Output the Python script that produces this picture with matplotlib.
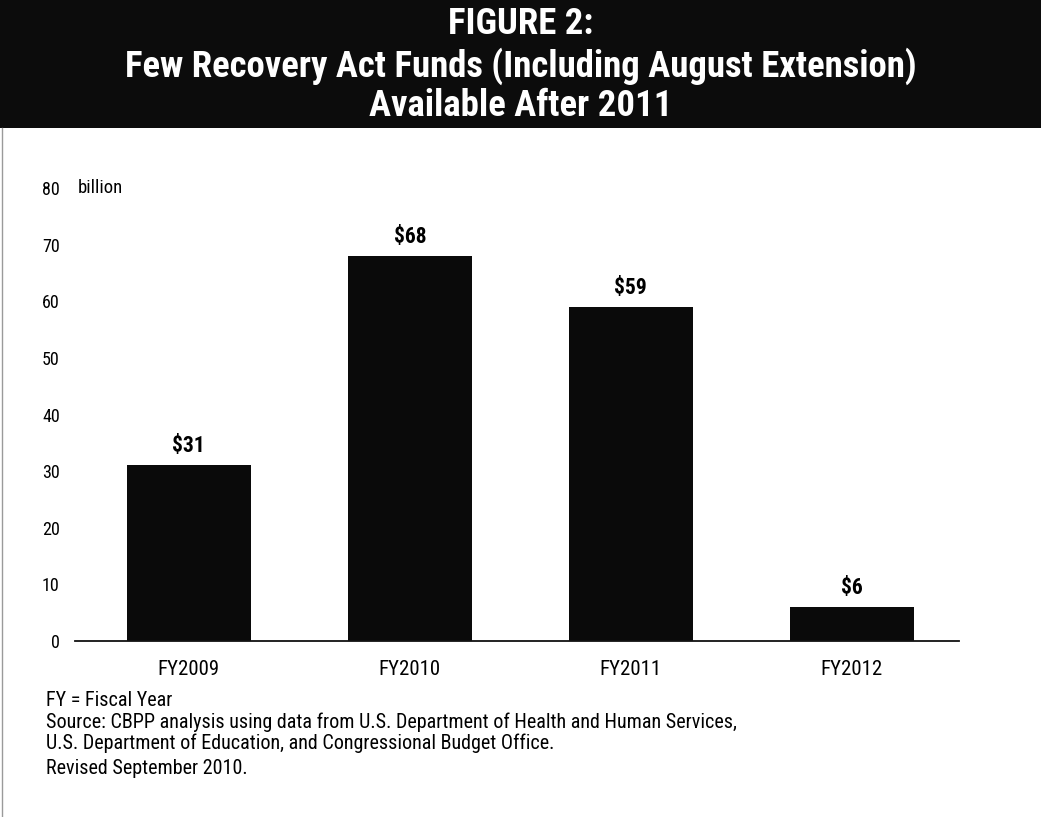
import matplotlib
matplotlib.use("Agg")
import matplotlib.pyplot as plt
from matplotlib.patches import Rectangle
from matplotlib.lines import Line2D
from matplotlib import font_manager

###### DATOS ######

years = ["FY2009", "FY2010", "FY2011", "FY2012"]
funds = [31, 68, 59, 6]  # miles de millones de dolares
y_ticks = [0, 10, 20, 30, 40, 50, 60, 70, 80]

title_lines = ["FIGURE 2:",
               "Few Recovery Act Funds (Including August Extension)",
               "Available After 2011"]
notes = ["FY = Fiscal Year",
         "Source: CBPP analysis using data from U.S. Department of Health and Human Services,",
         "U.S. Department of Education, and Congressional Budget Office.",
         "Revised September 2010."]

# fuentes estrechas si existen
names = {f.name for f in font_manager.fontManager.ttflist}
fam = [n for n in ["Roboto Condensed", "Liberation Sans Narrow", "Roboto", "DejaVu Sans"]
       if n in names]
plt.rcParams["font.family"] = fam

###### FIGURA ######

W, H = 1041, 817
fig = plt.figure(figsize=(W / 100, H / 100), dpi=100)
fig.patch.set_facecolor("white")

# banda del titulo
band_h = 128 / H
fig.patches.append(Rectangle((0, 1 - band_h), 1, band_h, transform=fig.transFigure,
                             facecolor="#0c0c0c", edgecolor="none", zorder=0))
fig.lines.append(Line2D([2 / W, 2 / W], [0, 1 - band_h], transform=fig.transFigure,
                        color="#9a9a9a", lw=1))

title_y = [24, 66, 106]
for txt, yy in zip(title_lines, title_y):
    fig.text(0.5, 1 - yy / H, txt, ha="center", va="center", color="white",
             fontsize=26.5, fontweight="bold")

###### GRAFICO DE BARRAS ######

ax = fig.add_axes([75 / W, 176 / H, 884 / W, 453 / H])
x = list(range(len(years)))
ax.bar(x, funds, width=0.56, color="#0a0a0a", zorder=2)

ax.set_xlim(-0.515, 3.485)
ax.set_ylim(0, 80)
ax.set_yticks(y_ticks)
ax.set_yticklabels([str(t) for t in y_ticks])
ax.set_xticks(x)
ax.set_xticklabels(years)
ax.tick_params(axis="y", length=0, pad=11, labelsize=13)
ax.tick_params(axis="x", length=0, pad=14, labelsize=15)

for s in ["top", "right", "left"]:
    ax.spines[s].set_visible(False)
ax.spines["bottom"].set_linewidth(1.3)
ax.spines["bottom"].set_color("#111111")

# etiqueta de unidades
ax.annotate("billion", xy=(0, 80), xycoords=("axes fraction", "data"),
            xytext=(2, 0), textcoords="offset points", ha="left", va="center",
            fontsize=13.5)

# valores sobre las barras
for xi, v in zip(x, funds):
    ax.annotate("$%d" % v, xy=(xi, v), xytext=(0, 6), textcoords="offset points",
                ha="center", va="bottom", fontsize=15.5, fontweight="bold")

###### NOTAS ######

note_y = [700, 722, 743, 769]
for txt, yy in zip(notes, note_y):
    fig.text(46 / W, 1 - yy / H, txt, ha="left", va="center", fontsize=14.5)

fig.savefig("out.png", dpi=100)
